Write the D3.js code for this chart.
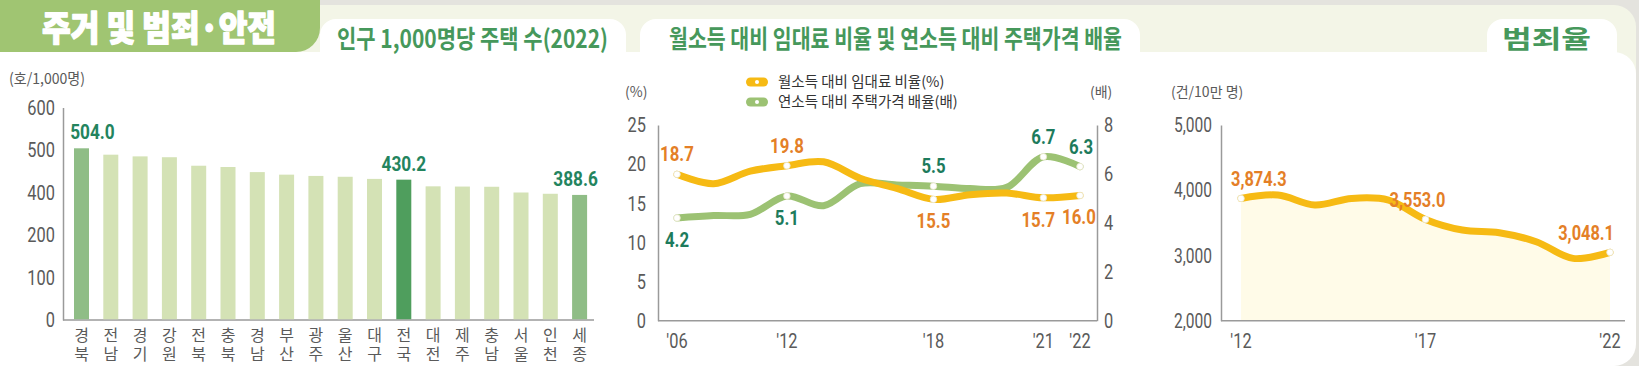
<!DOCTYPE html>
<html>
<head>
<meta charset="utf-8">
<script src="https://cdn.jsdelivr.net/npm/d3@7"></script>
<style>
html,body{margin:0;padding:0;background:#e4e3de;overflow:hidden;}
svg{display:block;}
.num{font-family:Roboto,'Liberation Sans',sans-serif;}
.kr{font-family:'Noto Sans CJK KR','Noto Sans',sans-serif;}
.vert{writing-mode:vertical-rl;text-orientation:upright;}
</style>
</head>
<body>
<svg id="chart" width="1639" height="366"></svg>
<script>
// ---- data ----
const regions = ['경북','전남','경기','강원','전북','충북','경남','부산','광주','울산','대구','전국','대전','제주','충남','서울','인천','세종'];
const housing = [504.0, 489, 485, 483, 463, 460, 448, 442, 439, 437, 432, 430.2, 414.5, 414, 413.5, 400, 394, 388.6];
const housingTicks = [0, 100, 200, 400, 500, 600];
const housingLabeled = ['경북', '전국', '세종'];

const surveyYears = ["'06","'08","'10","'12","'14","'16","'17","'18","'19","'20","'21","'22"];
const rentRatio = [18.7, 17.5, 19.1, 19.8, 20.3, 18.2, 16.9, 15.5, 16.1, 16.3, 15.7, 16.0];
const priceRatio = [4.2, 4.3, 4.35, 5.1, 4.7, 5.6, 5.55, 5.5, 5.4, 5.45, 6.7, 6.3];
const rentTicks = [0, 5, 10, 15, 20, 25];
const priceTicks = [0, 2, 4, 6, 8];
const rentShownYears = ["'06","'12","'18","'21","'22"];

const crimeYears = ["'12","'13","'14","'15","'16","'17","'18","'19","'20","'21","'22"];
const crimeRate = [3874.3, 3926, 3773, 3875, 3850, 3553.0, 3390, 3349, 3211, 2955, 3048.1];
const crimeTicks = [2000, 3000, 4000, 5000];
const crimeShownYears = ["'12","'17","'22"];

const W = 1639, H = 366;
const svg = d3.select('#chart');

const C = {
  tab:'#a0c572', band:'#f3f5e7', sub:'#46985b',
  barPale:'#d4e2b5', barMid:'#8fbd86', barDark:'#4f9e5d', valGreen:'#23845e',
  orange:'#f6ba14', green:'#9cc273', orangeTxt:'#e47f27', greenTxt:'#1d7b5c',
  axis:'#9a9a9a', tick:'#5a5a5a'
};

// squeeze text horizontally, the original uses a condensed face
function narrow(sel, k){
  sel.each(function(){
    const len = this.getComputedTextLength();
    d3.select(this).attr('textLength', len * k).attr('lengthAdjust', 'spacingAndGlyphs');
  });
}

// ---- background panels ----
svg.append('rect').attr('x',-30).attr('y',5).attr('width',W-3+30).attr('height',120).attr('rx',22).attr('fill',C.band);
svg.append('rect').attr('x',-30).attr('y',52).attr('width',W-3+30).attr('height',H-52).attr('rx',22).attr('fill','#fff');

svg.append('rect').attr('x',-30).attr('y',-30).attr('width',350).attr('height',82).attr('rx',24).attr('fill',C.tab);
svg.append('text').attr('class','kr').attr('x',42).attr('y',41)
  .attr('font-size',35).attr('font-weight',900).attr('fill','#fff')
  .attr('stroke','#fff').attr('stroke-width',1.4).attr('stroke-linejoin','round')
  .attr('textLength',234).attr('lengthAdjust','spacingAndGlyphs')
  .text('주거 및 범죄·안전');

const tabs = [
  {x:320, w:306, tx:337, tl:271, text:'인구 1,000명당 주택 수(2022)'},
  {x:640, w:500, tx:669, tl:453, text:'월소득 대비 임대료 비율 및 연소득 대비 주택가격 배율'},
  {x:1487, w:130, tx:1502, tl:89, text:'범죄율'}
];
tabs.forEach(t => {
  svg.append('rect').attr('x',t.x).attr('y',19).attr('width',t.w).attr('height',60).attr('rx',16).attr('fill','#fff');
  svg.append('text').attr('class','kr').attr('x',t.tx).attr('y',48)
    .attr('font-size',25).attr('font-weight',600).attr('fill',C.sub)
    .attr('textLength',t.tl).attr('lengthAdjust','spacingAndGlyphs')
    .text(t.text);
});

function styleAxis(g, k){
  g.select('.domain').attr('stroke',C.axis).attr('stroke-width',1.5);
  g.selectAll('.tick text').attr('class','num').attr('font-size',21).attr('fill',C.tick).call(narrow, k || 0.78);
}

// ---- chart 1: housing per 1,000 ----
const bx = d3.scalePoint().domain(regions).range([81.5, 579.6]);
const by = d3.scaleLinear().domain(housingTicks).range(housingTicks.map((d,i) => 320 - i*42.5));
const barW = 15;

svg.append('text').attr('class','kr').attr('x',9).attr('y',84).attr('font-size',15).attr('fill',C.tick)
  .attr('textLength',76).attr('lengthAdjust','spacingAndGlyphs').text('(호/1,000명)');

const ay1 = svg.append('g').attr('transform','translate(63,0)')
  .call(d3.axisLeft(by).tickValues(housingTicks).tickSize(0).tickPadding(8).tickFormat(d3.format('d')));
styleAxis(ay1);
svg.append('line').attr('x1',63).attr('x2',594).attr('y1',by(0)).attr('y2',by(0)).attr('stroke',C.axis).attr('stroke-width',1.5);

svg.append('g').selectAll('rect').data(regions).join('rect')
  .attr('x', d => bx(d) - barW/2)
  .attr('y', (d,i) => by(housing[i]))
  .attr('width', barW)
  .attr('height', (d,i) => by(0) - by(housing[i]) - 0.75)
  .attr('fill', d => d === '전국' ? C.barDark : (d === '경북' || d === '세종') ? C.barMid : C.barPale);

svg.append('g').selectAll('text').data(housingLabeled).join('text')
  .attr('class','num').attr('font-size',21).attr('font-weight',700).attr('fill',C.valGreen)
  .attr('text-anchor','middle')
  .attr('x', d => bx(d) + (d === '경북' ? 11 : d === '세종' ? -4 : 0))
  .attr('y', d => by(housing[regions.indexOf(d)]) - 9)
  .text(d => d3.format('.1f')(housing[regions.indexOf(d)]))
  .call(narrow, 0.82);

// region names are written top to bottom under each bar
svg.append('g').selectAll('text').data(regions).join('text')
  .attr('class','kr vert').attr('font-size',16).attr('fill',C.tick)
  .attr('letter-spacing',2.5)
  .attr('x', d => bx(d)).attr('y', 327)
  .text(d => d);

// ---- chart 2: rent & price ratios ----
const L2 = 658, R2 = 1097, T2 = 125, B2 = 320.7;
const x2 = d3.scalePoint().domain(surveyYears).range([677, 1080]);
const yL = d3.scaleLinear().domain([0, 25]).range([B2, T2]);
const yR = d3.scaleLinear().domain([0, 8]).range([B2, T2]);

const ay2 = svg.append('g').attr('transform',`translate(${L2},0)`)
  .call(d3.axisLeft(yL).tickValues(rentTicks).tickSize(0).tickPadding(12));
styleAxis(ay2);
const ay2r = svg.append('g').attr('transform',`translate(${R2},0)`)
  .call(d3.axisRight(yR).tickValues(priceTicks).tickSize(0).tickPadding(7));
styleAxis(ay2r);
svg.append('line').attr('x1',L2).attr('x2',R2).attr('y1',B2).attr('y2',B2).attr('stroke',C.axis).attr('stroke-width',1.5);

svg.append('g').selectAll('text').data(rentShownYears).join('text')
  .attr('class','num').attr('font-size',21).attr('fill',C.tick).attr('text-anchor','middle')
  .attr('x', d => x2(d)).attr('y', 348).text(d => d)
  .call(narrow, 0.78);

svg.append('text').attr('class','kr').attr('x',625).attr('y',97).attr('font-size',14).attr('fill',C.tick).text('(%)');
svg.append('text').attr('class','kr').attr('x',1090).attr('y',97).attr('font-size',14).attr('fill',C.tick).text('(배)');

const legend = [
  {name:'월소득 대비 임대료 비율(%)', color:C.orange},
  {name:'연소득 대비 주택가격 배율(배)', color:C.green}
];
const lg = svg.append('g').selectAll('g').data(legend).join('g')
  .attr('transform', (d,i) => `translate(746,${82 + i*20})`);
lg.append('rect').attr('x',0).attr('y',-4.5).attr('width',22).attr('height',9).attr('rx',4.5).attr('fill', d => d.color);
lg.append('circle').attr('cx',11).attr('cy',0).attr('r',2).attr('fill','#fff');
lg.append('text').attr('class','kr').attr('x',32).attr('y',5).attr('font-size',14.5).attr('fill','#333')
  .text(d => d.name);

const curve = d3.curveCatmullRom.alpha(0.5);
const linePrice = d3.line().x((d,i) => x2(surveyYears[i])).y(d => yR(d)).curve(curve);
const lineRent = d3.line().x((d,i) => x2(surveyYears[i])).y(d => yL(d)).curve(curve);

svg.append('path').datum(priceRatio).attr('d', linePrice).attr('fill','none')
  .attr('stroke',C.green).attr('stroke-width',7).attr('stroke-linecap','round');
svg.append('path').datum(rentRatio).attr('d', lineRent).attr('fill','none')
  .attr('stroke',C.orange).attr('stroke-width',7).attr('stroke-linecap','round');

// label side: above (-1) or below (+1) the point, plus a small x nudge
const rentLabelPos = {"'06":[-1,0], "'12":[-1,0], "'18":[1,0], "'21":[1,-5], "'22":[1,-1]};
const priceLabelPos = {"'06":[1,0], "'12":[1,0], "'18":[-1,0], "'21":[-1,0], "'22":[-1,1]};

function pointLabels(values, yScale, pos, color){
  const pts = rentShownYears.map(y => ({year:y, v:values[surveyYears.indexOf(y)]}));
  svg.append('g').selectAll('circle').data(pts).join('circle')
    .attr('cx', d => x2(d.year)).attr('cy', d => yScale(d.v)).attr('r',3.3)
    .attr('fill','#fff').attr('stroke','#e9e4c8').attr('stroke-width',0.8);
  svg.append('g').selectAll('text').data(pts).join('text')
    .attr('class','num').attr('font-size',21).attr('font-weight',700).attr('fill',color)
    .attr('text-anchor','middle')
    .attr('x', d => x2(d.year) + pos[d.year][1])
    .attr('y', d => yScale(d.v) + (pos[d.year][0] < 0 ? -13 : 29))
    .text(d => d3.format('.1f')(d.v))
    .call(narrow, 0.8);
}
pointLabels(rentRatio, yL, rentLabelPos, C.orangeTxt);
pointLabels(priceRatio, yR, priceLabelPos, C.greenTxt);

// ---- chart 3: crime rate ----
const L3 = 1221, R3 = 1625, T3 = 125, B3 = 320.7;
const x3 = d3.scalePoint().domain(crimeYears).range([1241, 1610]);
const y3 = d3.scaleLinear().domain([2000, 5000]).range([B3, T3]);

svg.append('text').attr('class','kr').attr('x',1171).attr('y',97).attr('font-size',14).attr('fill',C.tick).text('(건/10만 명)');

const area = d3.area().x((d,i) => x3(crimeYears[i])).y0(B3).y1(d => y3(d)).curve(curve);
svg.append('path').datum(crimeRate).attr('d', area).attr('fill','#fffbe8');

const ay3 = svg.append('g').attr('transform',`translate(${L3},0)`)
  .call(d3.axisLeft(y3).tickValues(crimeTicks).tickSize(0).tickPadding(9).tickFormat(d3.format(',')));
styleAxis(ay3, 0.74);
svg.append('line').attr('x1',L3).attr('x2',R3).attr('y1',B3).attr('y2',B3).attr('stroke',C.axis).attr('stroke-width',1.5);

svg.append('g').selectAll('text').data(crimeShownYears).join('text')
  .attr('class','num').attr('font-size',21).attr('fill',C.tick).attr('text-anchor','middle')
  .attr('x', d => x3(d)).attr('y', 348).text(d => d)
  .call(narrow, 0.78);

const line3 = d3.line().x((d,i) => x3(crimeYears[i])).y(d => y3(d)).curve(curve);
svg.append('path').datum(crimeRate).attr('d', line3).attr('fill','none')
  .attr('stroke',C.orange).attr('stroke-width',7).attr('stroke-linecap','round');

const crimePts = crimeShownYears.map(y => ({year:y, v:crimeRate[crimeYears.indexOf(y)]}));
svg.append('g').selectAll('circle').data(crimePts).join('circle')
  .attr('cx', d => x3(d.year)).attr('cy', d => y3(d.v)).attr('r',3.3)
  .attr('fill','#fff').attr('stroke','#e9e4c8').attr('stroke-width',0.8);
svg.append('g').selectAll('text').data(crimePts).join('text')
  .attr('class','num').attr('font-size',21).attr('font-weight',700).attr('fill',C.orangeTxt)
  .attr('text-anchor', d => d.year === "'12" ? 'start' : d.year === "'22" ? 'end' : 'middle')
  .attr('x', d => x3(d.year) + (d.year === "'12" ? -10 : d.year === "'22" ? 4 : -8))
  .attr('y', d => y3(d.v) - 12)
  .text(d => d3.format(',.1f')(d.v))
  .call(narrow, 0.78);
</script>
</body>
</html>
